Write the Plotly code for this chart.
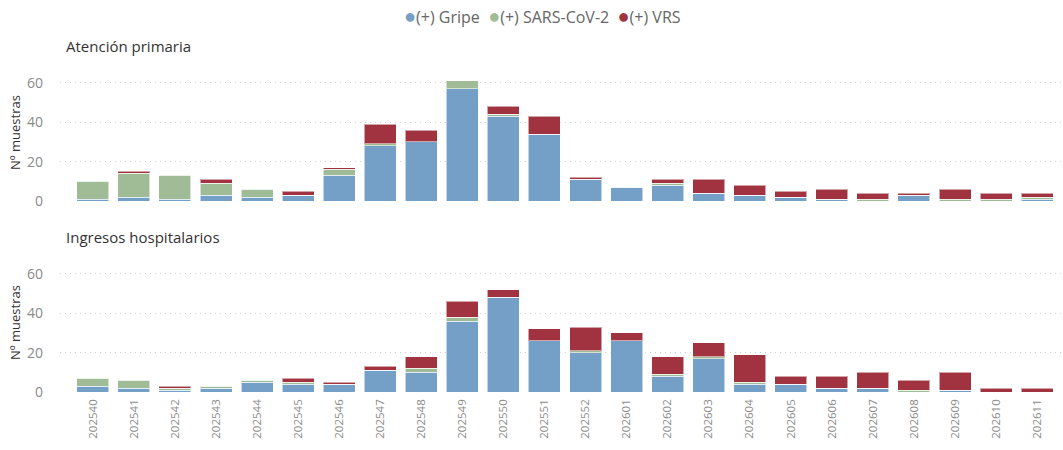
import plotly.graph_objects as go

weeks = ["202540", "202541", "202542", "202543", "202544", "202545", "202546",
         "202547", "202548", "202549", "202550", "202551", "202552",
         "202601", "202602", "202603", "202604", "202605", "202606",
         "202607", "202608", "202609", "202610", "202611"]

ap_gripe = [1, 2, 1, 3, 2, 3, 13, 28, 30, 57, 43, 34, 11, 7, 8, 4, 3, 2, 1, 0, 3, 0, 0, 1]
ap_sars = [9, 12, 12, 6, 4, 0, 3, 1, 0, 4, 1, 0, 0, 0, 1, 0, 0, 0, 0, 1, 0, 1, 1, 1]
ap_vrs = [0, 1, 0, 2, 0, 2, 1, 10, 6, 0, 4, 9, 1, 0, 2, 7, 5, 3, 5, 3, 1, 5, 3, 2]

hi_gripe = [3, 2, 1, 2, 5, 4, 4, 11, 10, 36, 48, 26, 20, 26, 8, 17, 4, 4, 2, 2, 0, 1, 0, 0]
hi_sars = [4, 4, 1, 1, 1, 1, 0, 0, 2, 2, 0, 0, 1, 0, 1, 1, 1, 0, 0, 0, 1, 0, 0, 0]
hi_vrs = [0, 0, 1, 0, 0, 2, 1, 2, 6, 8, 4, 6, 12, 4, 9, 7, 14, 4, 6, 8, 5, 9, 2, 2]

series_names = ["(+) Gripe", "(+) SARS-CoV-2", "(+) VRS"]
colors = ["#74A0C8", "#A0BC96", "#A0333F"]
panel_titles = ["Atención primaria", "Ingresos hospitalarios"]
y_ticks = [0, 20, 40, 60]

FONT = "Open Sans"
W, H = 1063, 450
HE = 441  # effective rendered height used for vertical placement

def px_y(p):
    return (HE - p) / HE

fig = go.Figure()

panels = [((ap_gripe, ap_sars, ap_vrs), "x", "y"), ((hi_gripe, hi_sars, hi_vrs), "x2", "y2")]
for vals3, xa, ya in panels:
    for vals, name, col in zip(vals3, series_names, colors):
        fig.add_trace(go.Bar(
            x=weeks, y=vals, name=name, xaxis=xa, yaxis=ya,
            marker=dict(color=col, line=dict(color="rgba(255,255,255,0.55)", width=1)),
            showlegend=False,
        ))

x_range = [-0.80, 23.63]
common_y = dict(
    range=[0, 65], tickvals=y_ticks, showgrid=True, gridcolor="#cfcfcf",
    griddash="1px,4px", gridwidth=1, zeroline=False, showline=False,
    tickfont=dict(family=FONT, size=14, color="#8a8a8a"), ticklabelstandoff=16,
    fixedrange=True,
)
fig.update_layout(
    width=W, height=H, autosize=False,
    margin=dict(l=0, r=0, t=0, b=0),
    paper_bgcolor="white", plot_bgcolor="white",
    barmode="stack", bargap=0.22,
    showlegend=False,
    xaxis=dict(domain=[60 / W, 1.0], type="category", range=x_range,
               showticklabels=False, showgrid=False, showline=False, anchor="y"),
    yaxis=dict(domain=[px_y(201), px_y(73)], anchor="x", **common_y),
    xaxis2=dict(domain=[60 / W, 1.0], type="category", range=x_range,
                showgrid=False, showline=False, anchor="y2", tickangle=-90,
                tickfont=dict(family=FONT, size=11.5, color="#8a8a8a"), ticklabelstandoff=4),
    yaxis2=dict(domain=[px_y(392), px_y(264)], anchor="x2", **common_y),
)

# Legend as text with coloured dots
legend_html = "\u00a0\u00a0".join(
    f"<span style='color:{c};font-size:20px'>●</span>{n}" for n, c in zip(series_names, colors)
)
fig.add_annotation(x=542 / W, y=px_y(16), xref="paper", yref="paper",
                   text=legend_html, showarrow=False,
                   font=dict(family=FONT, size=16, color="#666666"),
                   xanchor="center", yanchor="middle")

for title, yp in zip(panel_titles, [46, 237]):
    fig.add_annotation(x=64 / W, y=px_y(yp), xref="paper", yref="paper",
                       text=title, showarrow=False, xanchor="left", yanchor="middle",
                       font=dict(family=FONT, size=15, color="#333333"))

for yp in [133, 323]:
    fig.add_annotation(x=15 / W, y=px_y(yp), xref="paper", yref="paper",
                       text="Nº muestras", showarrow=False, textangle=-90,
                       xanchor="center", yanchor="middle",
                       font=dict(family=FONT, size=13, color="#333333"))

fig.write_html("out.html",
               config={"responsive": False, "displayModeBar": False, "staticPlot": True},
               post_script="document.body.style.margin='0';")
